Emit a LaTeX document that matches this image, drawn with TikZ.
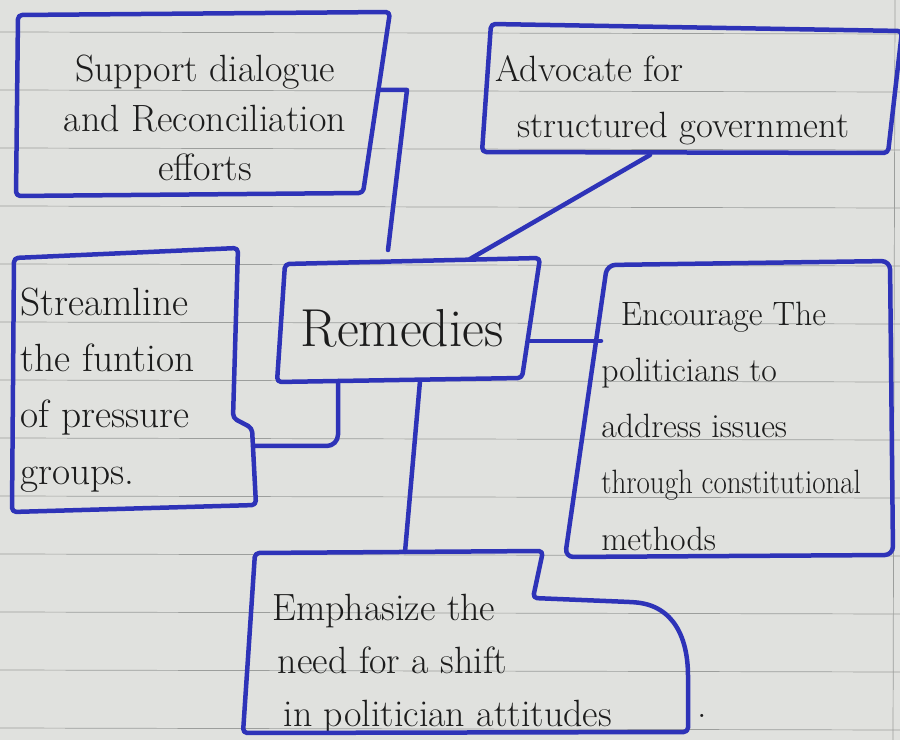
\documentclass[tikz,border=0pt]{standalone}
\usetikzlibrary{calc}
\definecolor{paper}{HTML}{E0E1DE}
\definecolor{rulec}{HTML}{9C9E9C}
\definecolor{ink}{HTML}{2E33B8}
\definecolor{pen}{HTML}{1C1C1C}
\begin{document}
\begin{tikzpicture}[x=0.025cm,y=-0.025cm,
  box/.style={draw=ink,line width=3.2pt,rounded corners=3pt,line join=round},
  link/.style={draw=ink,line width=3.2pt,line cap=round,line join=round},
  txt/.style={text=pen,inner sep=0pt}]
\useasboundingbox (0,0) rectangle (900,740);
\clip (0,0) rectangle (900,740);
\fill[paper] (0,0) rectangle (900,740);
\foreach \y in {32,90,...,728} \draw[rulec,line width=0.5pt] (0,\y) -- (900,\y+2);
\draw[rulec,line width=0.5pt] (895,0) -- (893,740);

% Support
\node[txt,font=\fontsize{27}{35}\selectfont,align=center] (sup) at (205,118) {Support dialogue\\and Reconciliation\\efforts};
\draw[box] (18,15) -- (390,12) -- (363,193) -- (16,196) -- cycle;

% Advocate
\node[txt,font=\fontsize{26}{40}\selectfont,align=left,anchor=west] (adv) at (495,100) {Advocate for\\\hspace{16pt}structured government};
\draw[box] (491,24) -- (902,31) -- (888,153) -- (482,152) -- cycle;

% Remedies
\node[txt,font=\fontsize{38}{40}\selectfont] (rem) at (402,328) {Remedies};
\draw[box] (285,264) -- (540,258) -- (522,378) -- (277,382) -- cycle;

% Encourage
\node[txt,font=\fontsize{24}{40}\selectfont,align=left,anchor=west] (enc) at (601,426) {\hspace{14pt}Encourage The\\politicians to\\address issues\\\scalebox{0.86}[1]{through constitutional}\\methods};
\draw[box,rounded corners=6pt] (607,265) -- (890,261) -- (893,555) -- (565,557) -- cycle;

% Streamline
\node[txt,font=\fontsize{28}{40}\selectfont,align=left,anchor=west] (str) at (20,390) {Streamline\\the funtion\\of pressure\\groups.};
\draw[box] (14,258) -- (238,248) -- (233,418) -- (252,428) -- (256,505) -- (12,512) -- cycle;

% Emphasize
\node[txt,font=\fontsize{27}{38}\selectfont,align=left,anchor=west] (emp) at (272,664) {Emphasize the\\\hspace{4pt}need for a shift\\\hspace{8pt}in politician attitudes};
\draw[box] (255,553) -- (543,551) -- (533,598) -- (630,602) .. controls (675,605) and (688,640) .. (688,680) -- (688,732) -- (243,733) -- cycle;
\node[txt,font=\fontsize{27}{38}\selectfont] (dot) at (702,716) {.};

% connector end points
\coordinate (supR) at (378,90);
\coordinate (supK) at (407,90);
\coordinate (supE) at (388,250);
\coordinate (advS) at (650,155);
\coordinate (remN) at (470,259);
\coordinate (remE) at (530,341);
\coordinate (encW) at (601,341);
\coordinate (remSW) at (338,381);
\coordinate (strE) at (255,446);
\coordinate (remS) at (420,381);
\coordinate (empN) at (405,552);

\draw[link] (supR) -- (supK) -- (supE);
\draw[link] (advS) -- (remN);
\draw[link] (remE) -- (encW);
\draw[link,rounded corners=8pt] (remSW) |- (strE);
\draw[link] (remS) -- (empN);
\end{tikzpicture}
\end{document}
